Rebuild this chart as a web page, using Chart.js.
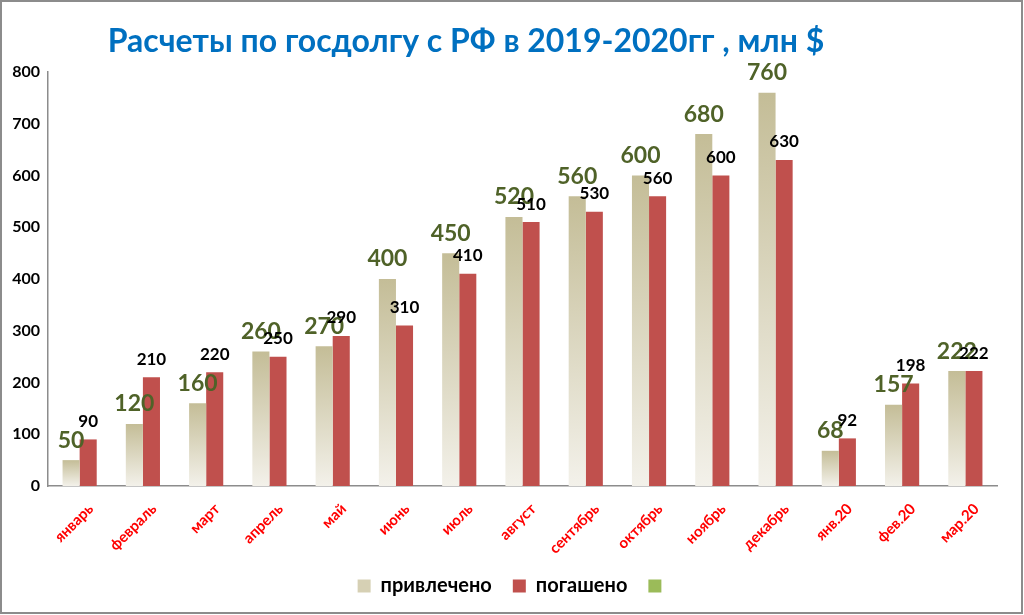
<!DOCTYPE html>
<html>
<head>
<meta charset="utf-8">
<script src="https://cdn.jsdelivr.net/npm/chart.js@4/dist/chart.umd.min.js"></script>
<style>
  html, body { margin: 0; padding: 0; background: #fff; }
  #wrap { width: 1024px; height: 615px; position: relative; }
</style>
</head>
<body>
<div id="wrap"><canvas id="grafico" width="1024" height="615"></canvas></div>
<script>
const titulo = 'Расчеты по госдолгу с РФ в 2019-2020гг , млн $';
const meses = ['январь', 'февраль', 'март', 'апрель', 'май', 'июнь', 'июль', 'август',
  'сентябрь', 'октябрь', 'ноябрь', 'декабрь', 'янв.20', 'фев.20', 'мар.20'];
const privlecheno = [50, 120, 160, 260, 270, 400, 450, 520, 560, 600, 680, 760, 68, 157, 222];
const pogasheno = [90, 210, 220, 250, 290, 310, 410, 510, 530, 560, 600, 630, 92, 198, 222];
const yTicks = [0, 100, 200, 300, 400, 500, 600, 700, 800];

const FONT = 'Lato, "Open Sans", sans-serif';

function beigeGradient(context) {
  const chart = context.chart;
  const area = chart.chartArea;
  if (!area || context.type !== 'data') return '#d8d3bb';
  const y = chart.scales.y;
  const top = y.getPixelForValue(context.raw);
  const bottom = y.getPixelForValue(0);
  const g = chart.ctx.createLinearGradient(0, top, 0, bottom);
  g.addColorStop(0, '#c4bd97');
  g.addColorStop(1, '#f3f1ea');
  return g;
}

// рамка и заголовок
const marco = {
  id: 'marco',
  afterLayout(chart) {
    // легенда в оригинале чуть правее центра
    chart.legend.left += 16;
    chart.legend.right += 16;
  },
  afterDraw(chart) {
    const c = chart.ctx;
    c.save();
    c.strokeStyle = '#8c8c8c';
    c.lineWidth = 2;
    c.strokeRect(1, 1, chart.width - 3, chart.height - 3);
    c.font = 'bold 32px ' + FONT;
    c.fillStyle = '#0070c0';
    c.textAlign = 'center';
    c.textBaseline = 'middle';
    c.fillText(titulo, 466, 42);
    c.restore();
  }
};

// подписи значений над столбцами
const etiquetas = {
  id: 'etiquetas',
  afterDatasetsDraw(chart) {
    const c = chart.ctx;
    c.save();
    c.textAlign = 'center';
    c.textBaseline = 'middle';
    chart.getDatasetMeta(0).data.forEach((bar, i) => {
      c.font = 'bold 23px ' + FONT;
      c.fillStyle = '#4f6228';
      c.fillText(privlecheno[i], bar.x, bar.y - 20);
    });
    chart.getDatasetMeta(1).data.forEach((bar, i) => {
      c.font = 'bold 17px ' + FONT;
      c.fillStyle = '#000';
      c.fillText(pogasheno[i], bar.x, bar.y - 18);
    });
    c.restore();
  }
};

const ctx = document.getElementById('grafico').getContext('2d');
const grafico = new Chart(ctx, {
  type: 'bar',
  data: {
    labels: meses,
    datasets: [{
      label: 'привлечено',
      data: privlecheno,
      backgroundColor: beigeGradient,
      categoryPercentage: 0.54,
      barPercentage: 1.0
    }, {
      label: 'погашено',
      data: pogasheno,
      backgroundColor: '#c0504d',
      categoryPercentage: 0.54,
      barPercentage: 1.0
    }, {
      type: 'line',
      label: '',
      data: [],
      borderColor: '#9bbb59',
      backgroundColor: '#9bbb59'
    }]
  },
  options: {
    responsive: false,
    animation: false,
    layout: { padding: { top: 72, left: 0, right: 27, bottom: 9 } },
    plugins: {
      title: { display: false },
      legend: {
        position: 'bottom',
        labels: {
          color: '#000',
          font: { family: FONT, size: 20, weight: 'bold' },
          boxWidth: 13,
          boxHeight: 13,
          padding: 21,
          generateLabels(chart) {
            const fills = ['#d6d0b4', '#c0504d', '#9bbb59'];
            return chart.data.datasets.map((ds, i) => ({
              text: ds.label,
              fillStyle: fills[i],
              strokeStyle: fills[i],
              lineWidth: 0,
              datasetIndex: i
            }));
          }
        }
      },
      tooltip: { enabled: false }
    },
    scales: {
      x: {
        grid: { display: false, drawTicks: false },
        border: { color: '#8c8c8c', width: 1.5 },
        ticks: {
          color: '#ff0000',
          font: { family: FONT, size: 15, weight: 'bold' },
          minRotation: 45,
          maxRotation: 45,
          padding: 14,
          labelOffset: 11
        },
        afterFit(scale) { scale.height = 69; }
      },
      y: {
        min: 0,
        max: 800,
        afterBuildTicks(scale) { scale.ticks = yTicks.map(v => ({ value: v })); },
        grid: { display: false, drawTicks: false },
        border: { color: '#8c8c8c', width: 1.5 },
        ticks: {
          color: '#000',
          font: { family: FONT, size: 16, weight: 'bold' },
          padding: 8
        },
        afterFit(scale) { scale.width = 48; }
      }
    }
  },
  plugins: [marco, etiquetas]
});
</script>
</body>
</html>
